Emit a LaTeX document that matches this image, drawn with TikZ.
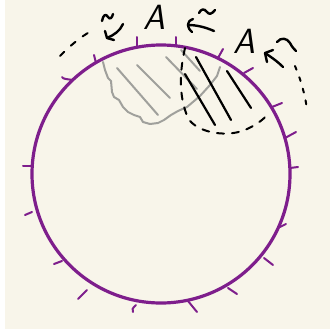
\documentclass[tikz,border=0pt]{standalone}
\usetikzlibrary{arrows.meta}
\definecolor{paper}{RGB}{248,245,234}
\definecolor{ringc}{RGB}{126,30,140}
\definecolor{shade}{RGB}{160,160,156}
\tikzset{
  ring/.style={draw=ringc,line width=3.2pt},
  tick/.style={draw=ringc,line width=2pt,line cap=round},
  hatchg/.style={draw=shade,line width=2pt,line cap=round,line join=round},
  hatchk/.style={draw=black,line width=2.2pt,line cap=round,line join=round},
  dashk/.style={draw=black,line width=2pt,line cap=round,dash pattern=on 7pt off 8pt},
  pen/.style={draw=black,line width=2.4pt,line cap=round,line join=round},
  letter/.style={font=\sffamily\itshape\fontsize{35}{35}\selectfont,inner sep=0pt}
}
\begin{document}
\begin{tikzpicture}[x=1pt,y=-1pt]
\useasboundingbox (0,0) rectangle (330,335);
\fill[paper] (5,0) rectangle (330,329);
% grey hatched region
\draw[hatchg] (103,62)--(105,70)--(108,78)--(111,81)--(112,92)--(114,97)--(119,100)--(123,107)--(128,112)--(134,115)--(140,117)--(143,122)--(150,124)--(158,123)--(164,120)--(171,115)--(178,111)--(187,107)--(200,96)--(210,85)--(217,76)--(220,67);
\draw[hatchg] (117,68)--(158,115);
\draw[hatchg] (137,65)--(170,98);
\draw[hatchg] (166,57)--(197,89);
\draw[hatchg] (181,50)--(200,71);
% circle
\draw[ring] (161,174) circle[radius=129pt];
% ticks
\draw[tick] (73,80) .. controls (66,79) and (63,79) .. (62,77);
\draw[tick] (96,63)--(94,55);
\draw[tick] (137,47)--(137,37);
\draw[tick] (176,45)--(176,37);
\draw[tick] (218,58)--(223,49);
\draw[tick] (244,73)--(253,68);
\draw[tick] (272,107)--(282,103);
\draw[tick] (285,138)--(296,132);
\draw[tick] (32,166)--(23,166);
\draw[tick] (32,212)--(25,215);
\draw[tick] (54,264)--(62,261);
\draw[tick] (78,299)--(87,290);
\draw[tick] (133,312) .. controls (132,309) .. (136,305);
\draw[tick] (188,301)--(197,312);
\draw[tick] (228,288)--(237,294);
\draw[tick] (264,258)--(273,265);
\draw[tick] (280,227) .. controls (283,226) .. (286,224);
\draw[tick] (290,168)--(298,167);
% black hatched region
\draw[dashk] (185,48) .. controls (180,70) and (178,95) .. (188,118) .. controls (196,132) and (225,138) .. (245,130) .. controls (256,125) and (263,120) .. (268,114);
\draw[hatchk] (185,74)--(215,125);
\draw[hatchk] (196,57)--(231,120);
\draw[hatchk] (227,71)--(251,108);
% letters
\node[letter] (A1) at (154,17) {A};
\node[letter] (A2) at (244,41) {A};
% arrow 1 with dashed approach
\draw[dashk,dash pattern=on 6pt off 9pt] (60,56) .. controls (70,46) and (80,37) .. (93,30);
\draw[pen] (123,24) .. controls (120,31) and (114,35) .. (107,38);
\draw[pen] (105,31)--(107,38)--(114,40);
\draw[pen] (102,21) .. controls (103,15) and (106,13) .. (108,17) .. controls (110,20) and (112,18) .. (113,14);
% arrow 2
\draw[pen] (214,31) .. controls (205,27) and (196,25) .. (188,25);
\draw[pen] (193,19) .. controls (189,21) .. (188,25) .. controls (189,29) .. (192,32);
\draw[pen] (199,13) .. controls (201,9) and (204,8) .. (207,12) .. controls (209,15) and (212,14) .. (215,10);
% arrow 3
\draw[pen] (283,67) .. controls (277,61) and (271,57) .. (265,53);
\draw[pen] (273,50)--(265,53)--(267,62);
\draw[pen] (277,42) .. controls (281,37) and (287,38) .. (290,43) .. controls (292,47) and (294,49) .. (296,51);
\draw[dashk,dash pattern=on 4pt off 8pt] (295,66) .. controls (301,80) and (305,95) .. (307,109);
\end{tikzpicture}
\end{document}
